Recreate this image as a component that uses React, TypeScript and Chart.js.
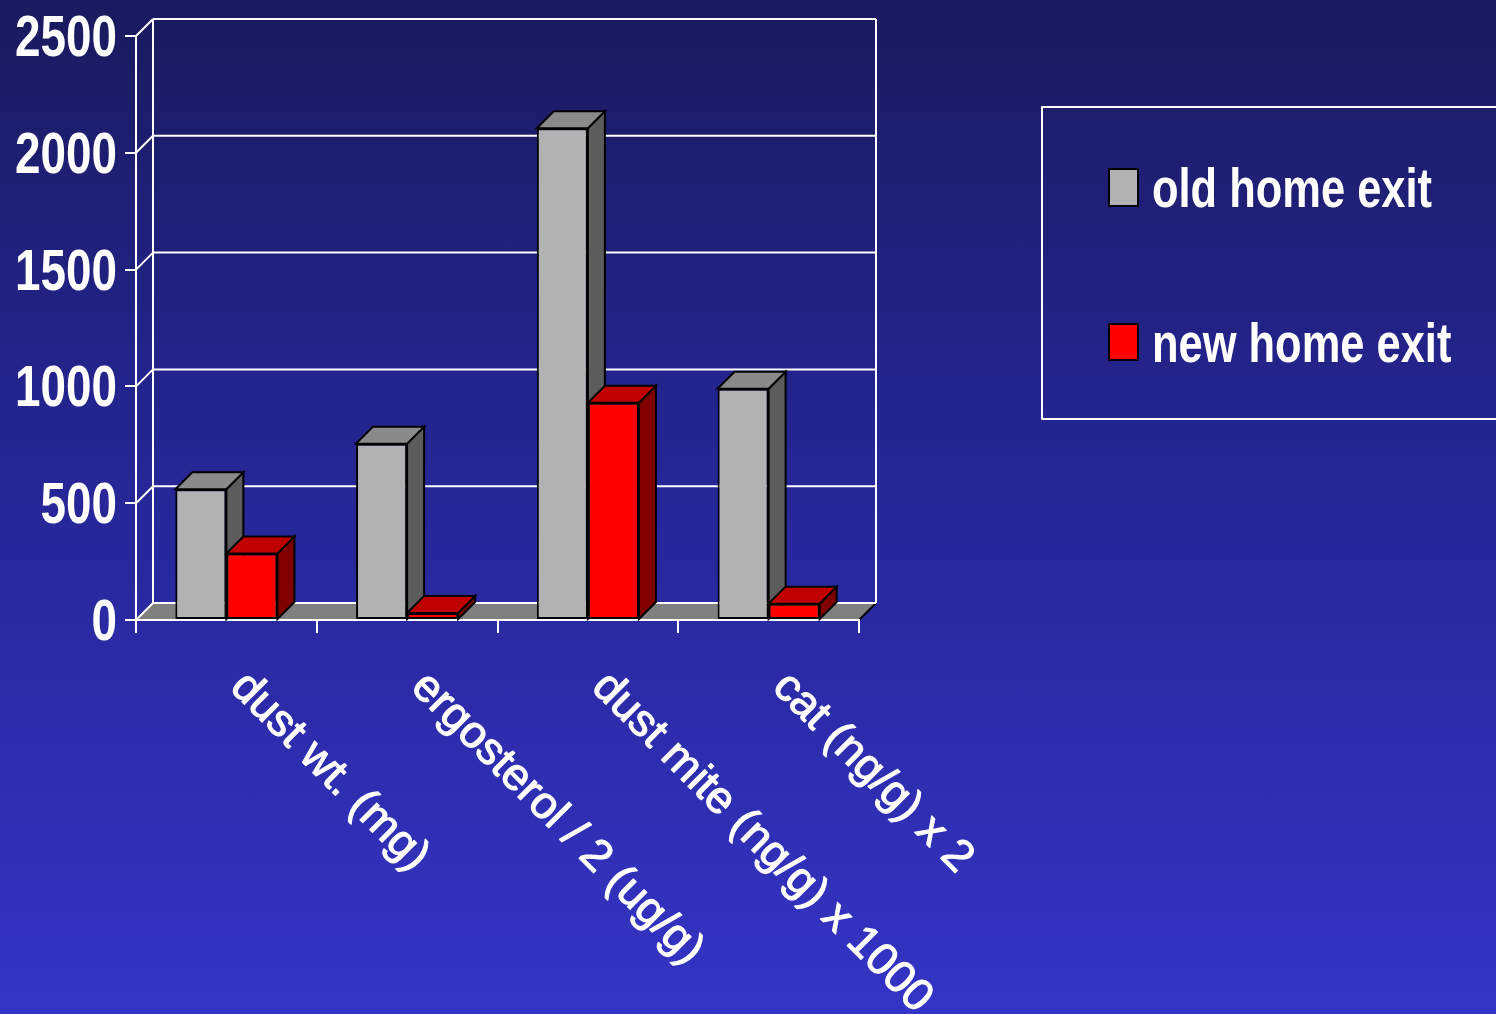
import React, { useEffect, useRef } from "react";
import { Chart, registerables } from "chart.js";

Chart.register(...registerables);

// ---- data ----
const categories = [
  "dust wt. (mg)",
  "ergosterol / 2 (ug/g)",
  "dust mite (ng/g) x 1000",
  "cat (ng/g) x 2",
];
const oldHomeExit = [560, 755, 2105, 990];
const newHomeExit = [285, 30, 930, 70];
const seriesLabels = ["old home exit", "new home exit"];
const yMin = 0;
const yMax = 2500;
const yStep = 500;

// ---- styles ----
const FRONT = ["#b2b2b2", "#ff0000"];
const SIDE = ["#5c5c5c", "#800000"];
const TOP = ["#8a8a8a", "#c00000"];
const DEPTH = 17;
const SANS = "'Liberation Sans', Arial, sans-serif";
const NARROW_SCALE = 0.79;

function drawFaces(chart: any, dsIndex: number) {
  const ctx = chart.ctx;
  const meta = chart.getDatasetMeta(dsIndex);
  const d = DEPTH;
  ctx.save();
  ctx.lineWidth = 2;
  ctx.strokeStyle = "#000000";
  ctx.lineJoin = "miter";
  meta.data.forEach((bar: any) => {
    const { x, y, base, width } = bar.getProps(["x", "y", "base", "width"], true);
    const l = x - width / 2;
    const r = x + width / 2;
    // side face
    ctx.beginPath();
    ctx.moveTo(r, y);
    ctx.lineTo(r + d, y - d);
    ctx.lineTo(r + d, base - d);
    ctx.lineTo(r, base);
    ctx.closePath();
    ctx.fillStyle = SIDE[dsIndex];
    ctx.fill();
    ctx.stroke();
    // top face
    ctx.beginPath();
    ctx.moveTo(l, y);
    ctx.lineTo(l + d, y - d);
    ctx.lineTo(r + d, y - d);
    ctx.lineTo(r, y);
    ctx.closePath();
    ctx.fillStyle = TOP[dsIndex];
    ctx.fill();
    ctx.stroke();
  });
  ctx.restore();
}

function narrowText(ctx: any, text: string, x: number, y: number, align: string) {
  ctx.save();
  ctx.translate(x, y);
  ctx.scale(NARROW_SCALE, 1);
  ctx.textAlign = align;
  ctx.fillText(text, 0, 0);
  ctx.restore();
}

const threeDPlugin = {
  id: "threeD",
  beforeDraw(chart: any) {
    const ctx = chart.ctx;
    const { left: L, right: R, top: T, bottom: B } = chart.chartArea;
    const d = DEPTH;
    const yScale = chart.scales.y;
    ctx.save();
    // floor
    ctx.beginPath();
    ctx.moveTo(L, B);
    ctx.lineTo(R, B);
    ctx.lineTo(R + d, B - d);
    ctx.lineTo(L + d, B - d);
    ctx.closePath();
    ctx.fillStyle = "#808080";
    ctx.fill();
    ctx.strokeStyle = "#000000";
    ctx.lineWidth = 2;
    ctx.beginPath();
    ctx.moveTo(R, B);
    ctx.lineTo(R + d, B - d);
    ctx.stroke();
    // back wall grid lines + connectors
    ctx.strokeStyle = "#ffffff";
    ctx.lineWidth = 2;
    yScale.ticks.forEach((t: any) => {
      const py = yScale.getPixelForValue(t.value);
      ctx.beginPath();
      ctx.moveTo(L + d, py - d);
      ctx.lineTo(R + d, py - d);
      ctx.stroke();
      ctx.beginPath();
      ctx.moveTo(L, py);
      ctx.lineTo(L + d, py - d);
      ctx.stroke();
    });
    ctx.beginPath();
    ctx.moveTo(L + d, T - d);
    ctx.lineTo(L + d, B - d);
    ctx.moveTo(R + d, T - d);
    ctx.lineTo(R + d, B - d);
    ctx.stroke();
    ctx.restore();
  },
  beforeDatasetsDraw(chart: any) {
    drawFaces(chart, 0);
  },
  afterDatasetsDraw(chart: any) {
    drawFaces(chart, 1);
  },
  afterDraw(chart: any) {
    const ctx = chart.ctx;
    const xScale = chart.scales.x;
    const yScale = chart.scales.y;
    const B = chart.chartArea.bottom;
    const L = chart.chartArea.left;
    ctx.save();
    ctx.fillStyle = "#ffffff";

    // y tick labels (bold, condensed)
    ctx.font = `bold 58px ${SANS}`;
    ctx.textBaseline = "alphabetic";
    yScale.ticks.forEach((t: any) => {
      const py = yScale.getPixelForValue(t.value);
      narrowText(ctx, String(t.value), L - 19, py + 20, "right");
    });

    // rotated category labels
    ctx.font = `45px ${SANS}`;
    ctx.textAlign = "left";
    ctx.textBaseline = "top";
    ctx.strokeStyle = "#ffffff";
    ctx.lineWidth = 1.1;
    ctx.lineJoin = "round";
    categories.forEach((lab, i) => {
      const cx = xScale.getPixelForValue(i);
      ctx.save();
      ctx.translate(cx + 27, B + 44);
      ctx.rotate(Math.PI / 4);
      ctx.fillText(lab, 0, 0);
      ctx.strokeText(lab, 0, 0);
      ctx.restore();
    });

    // legend
    const bx = 1042, by = 107, bw = 470, bh = 312;
    ctx.strokeStyle = "#ffffff";
    ctx.lineWidth = 2;
    ctx.strokeRect(bx, by, bw, bh);
    const rows = [
      { my: 169, mh: 37, base: 207 },
      { my: 324, mh: 36, base: 362 },
    ];
    chart.data.datasets.forEach((ds: any, i: number) => {
      const r = rows[i];
      ctx.fillStyle = ds.backgroundColor;
      ctx.fillRect(1109, r.my, 29, r.mh);
      ctx.strokeStyle = "#000000";
      ctx.lineWidth = 2;
      ctx.strokeRect(1109, r.my, 29, r.mh);
      ctx.fillStyle = "#ffffff";
      ctx.font = `bold 55px ${SANS}`;
      ctx.textBaseline = "alphabetic";
      narrowText(ctx, ds.label, 1152, r.base, "left");
    });
    ctx.restore();
  },
};

export default function App() {
  const canvasRef = useRef<HTMLCanvasElement | null>(null);

  useEffect(() => {
    const canvas = canvasRef.current;
    if (!canvas) return;
    const chart = new Chart(canvas, {
      type: "bar",
      data: {
        labels: categories,
        datasets: [
          {
            label: seriesLabels[0],
            data: oldHomeExit,
            backgroundColor: FRONT[0],
            borderColor: "#000000",
            borderWidth: 2,
            borderSkipped: false,
          },
          {
            label: seriesLabels[1],
            data: newHomeExit,
            backgroundColor: FRONT[1],
            borderColor: "#000000",
            borderWidth: 2,
            borderSkipped: false,
          },
        ],
      },
      options: {
        responsive: false,
        animation: false,
        events: [],
        layout: { padding: { top: 36, right: 637, left: 0, bottom: 0 } },
        datasets: {
          bar: { categoryPercentage: 0.565, barPercentage: 1 },
        },
        plugins: {
          legend: { display: false },
          tooltip: { enabled: false },
          title: { display: false },
        },
        scales: {
          x: {
            type: "category",
            offset: true,
            grid: {
              offset: true,
              drawOnChartArea: false,
              drawTicks: true,
              tickLength: 13,
              color: "#ffffff",
              lineWidth: 2,
            },
            border: { display: true, color: "#ffffff", width: 2 },
            ticks: { display: false },
            afterFit(scale: any) {
              scale.height = 1014 - 620;
            },
          },
          y: {
            min: yMin,
            max: yMax,
            ticks: {
              stepSize: yStep,
              display: false,
            },
            grid: {
              drawOnChartArea: false,
              drawTicks: true,
              tickLength: 11,
              color: "#ffffff",
              lineWidth: 2,
            },
            border: { display: true, color: "#ffffff", width: 2 },
            afterFit(scale: any) {
              scale.width = 136;
            },
          },
        },
      },
      plugins: [threeDPlugin],
    });
    return () => chart.destroy();
  }, []);

  return (
    <div
      style={{
        position: "fixed",
        left: 0,
        top: 0,
        width: 1496,
        height: 1014,
        background: "linear-gradient(to bottom, #1a1a5e 0%, #24248f 40%, #3434c6 100%)",
        overflow: "hidden",
      }}
    >
      <canvas ref={canvasRef} width={1496} height={1014} style={{ display: "block" }} />
    </div>
  );
}
